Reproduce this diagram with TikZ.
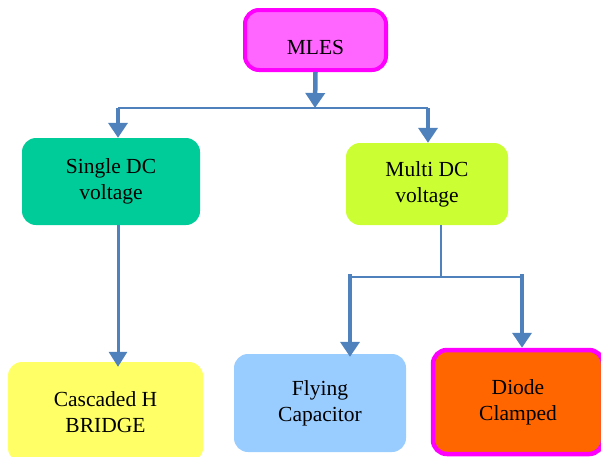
\documentclass[tikz,border=0pt]{standalone}
\usepackage{fontspec}
\setmainfont{Liberation Serif}
\usetikzlibrary{arrows.meta}
\definecolor{arrowblue}{HTML}{4F81BD}
\definecolor{mlesfill}{HTML}{FF66FF}
\definecolor{magborder}{HTML}{FF00FF}
\definecolor{singlefill}{HTML}{00CC99}
\definecolor{multifill}{HTML}{CCFF33}
\definecolor{cascfill}{HTML}{FFFF66}
\definecolor{flyfill}{HTML}{99CCFF}
\definecolor{diodefill}{HTML}{FF6600}
\tikzset{
  box/.style={rounded corners=14pt, inner sep=0pt, align=center,
    font=\fontsize{21.5}{26}\selectfont},
  thinline/.style={draw=arrowblue, line width=2pt},
  bigarrow/.style={draw=arrowblue, fill=arrowblue, line width=4.5pt,
    -{Triangle[width=19pt,length=15pt]}},
  midarrow/.style={draw=arrowblue, fill=arrowblue, line width=3pt,
    -{Triangle[width=18pt,length=15pt]}},
}
\begin{document}
\begin{tikzpicture}[x=1pt,y=-1pt]
\useasboundingbox (0,0) rectangle (601,456);
\clip (0,0) rectangle (601,456);
% boxes
\node[box, fill=mlesfill, draw=magborder, line width=4pt,
  minimum width=141pt, minimum height=60pt, text height=28pt, text depth=0pt]
  (mles) at (315.5,40) {MLES};
\node[box, fill=singlefill, minimum width=178pt, minimum height=87pt]
  (single) at (111,181.5) {Single DC\\voltage};
\node[box, fill=multifill, minimum width=162pt, minimum height=82pt]
  (multi) at (427,184) {Multi DC\\voltage};
\node[box, fill=cascfill, minimum width=195pt, minimum height=100pt]
  (casc) at (105.5,412) {Cascaded H\\BRIDGE};
\node[box, fill=flyfill, minimum width=172pt, minimum height=98pt]
  (fly) at (320,403) {Flying\\Capacitor};
\node[box, fill=diodefill, draw=magborder, line width=4.5pt,
  minimum width=170pt, minimum height=104pt] (diode) at (518,402) {Diode\\Clamped};
% junction points
\coordinate (jl) at (118,108);
\coordinate (jr) at (428,108);
\coordinate (jm) at (315,108);
\coordinate (mb) at (441,225);
\coordinate (lm) at (441,277);
\coordinate (ll) at (350,277);
\coordinate (lr) at (522,277);
% top connectors
\draw[thinline] (jl) -- (jr);
\draw[bigarrow] (mles.south) -- (jm);
\draw[bigarrow] (jl) -- (jl |- single.north);
\draw[bigarrow] (jr) -- (jr |- multi.north);
% single to cascaded
\draw[midarrow] (single.south -| jl) -- ([yshift=-5pt]casc.north -| jl);
% multi to lower
\draw[thinline] (mb) -- (lm);
\draw[thinline] (ll) -- (lr);
\draw[bigarrow] ([yshift=3pt]ll) -- ([yshift=-3pt]fly.north -| ll);
\draw[bigarrow] ([yshift=3pt]lr) -- (lr |- diode.north);
\end{tikzpicture}
\end{document}
